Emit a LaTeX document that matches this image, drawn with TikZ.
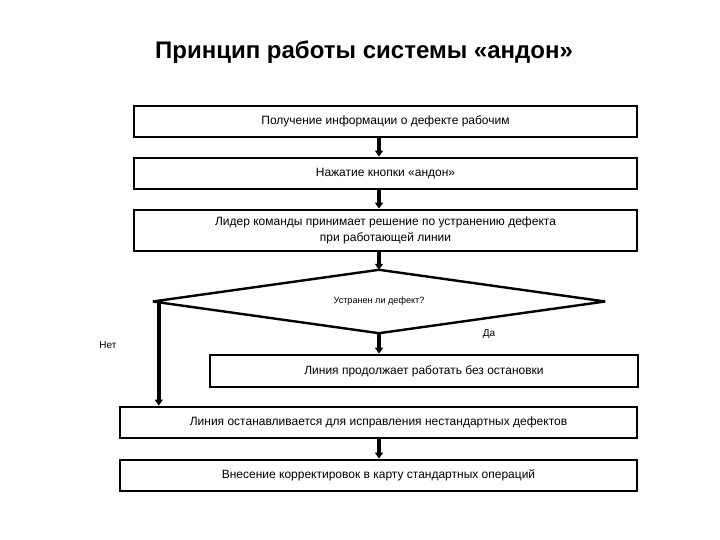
\documentclass[tikz,border=0pt]{standalone}
\usepackage{fontspec}
\setmainfont{Liberation Sans}
\usetikzlibrary{arrows.meta}
\begin{document}
\begin{tikzpicture}[x=1pt,y=-1pt,
  stepbox/.style={draw=black, line width=2.8pt, fill=white, inner sep=2pt,
    align=center, font=\fontsize{12}{16}\selectfont, minimum height=31pt},
  arr/.style={line width=3.4pt, -{Triangle[width=8pt,length=6pt]}},
  lbl/.style={font=\fontsize{10}{12}\selectfont, inner sep=0pt}]
\useasboundingbox (0,0) rectangle (720,540);
\node[font=\bfseries\fontsize{24}{28}\selectfont] (title) at (364,52) {Принцип работы системы «андон»};
\node[stepbox, minimum width=503pt] (b1) at (385.5,121.5) {Получение информации о дефекте рабочим};
\node[stepbox, minimum width=503pt] (b2) at (385.5,173.5) {Нажатие кнопки «андон»};
\node[stepbox, minimum width=503pt, minimum height=41pt] (b3) at (385.5,230.5) {Лидер команды принимает решение по устранению дефекта\\при работающей линии};
\node[minimum width=452pt, minimum height=63pt, inner sep=0pt,
  font=\fontsize{9.1}{11}\selectfont] (dia) at (379,301.5) {Устранен ли дефект?};
\draw[line width=2.4pt, line join=bevel] (dia.north) -- (dia.east) -- (dia.south) -- (dia.west) -- cycle;
\node[stepbox, minimum width=428pt, minimum height=32pt] (b4) at (424,371) {Линия продолжает работать без остановки};
\node[stepbox, minimum width=517pt] (b5) at (378.5,422.5) {Линия останавливается для исправления нестандартных дефектов};
\node[stepbox, minimum width=517pt] (b6) at (378.5,475.5) {Внесение корректировок в карту стандартных операций};
\node[lbl] (yes) at (489,334) {Да};
\node[lbl] (no) at (108,345) {Нет};
\draw[arr] (dia.north |- b1.south) -- (dia.north |- b2.north);
\draw[arr] (dia.north |- b2.south) -- (dia.north |- b3.north);
\draw[arr] (dia.north |- b3.south) -- (dia.north);
\draw[arr] (dia.south) -- (dia.south |- b4.north);
\coordinate (nostart) at ([xshift=6pt]dia.west);
\draw[arr] (nostart) -- (nostart |- b5.north);
\draw[arr] (b5.south -| dia.south) -- (b6.north -| dia.south);
\end{tikzpicture}
\end{document}
